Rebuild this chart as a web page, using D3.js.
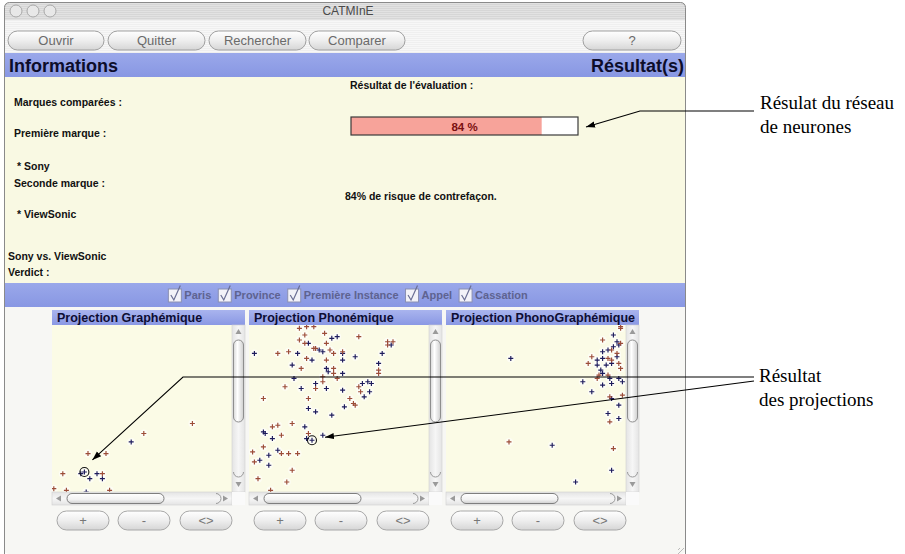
<!DOCTYPE html>
<html><head><meta charset="utf-8">
<script src="https://cdn.jsdelivr.net/npm/d3@7"></script>
<style>body{margin:0;background:#fff;}svg{display:block;}</style>
</head><body><svg id="c" width="905" height="554"></svg>
<script>
// ---------- data ----------
const windowTitle = "CATMInE";
const toolbarButtons = ["Ouvrir", "Quitter", "Rechercher", "Comparer", "?"];
const sectionTitles = ["Informations", "Résultat(s)"];
const infoLabels = ["Marques comparées :", "Première marque :", "* Sony", "Seconde marque :", "* ViewSonic", "Sony vs. ViewSonic", "Verdict :"];
const evaluationTitle = "Résultat de l'évaluation :";
const evaluationScore = 84;
const evaluationText = "84% de risque de contrefaçon.";
const filterLabels = ["Paris", "Province", "Première Instance", "Appel", "Cassation"];
const panelTitles = ["Projection Graphémique", "Projection Phonémique", "Projection PhonoGraphémique"];
const zoomButtons = ["+", "-", "<>"];
const annotations = [["Résulat du réseau", "de neurones"], ["Résultat", "des projections"]];

// projection points, normalised coordinates [x, y]
const grapheNavy = [[0.44,0.30],[0.18,0.12],[0.16,0.11],[0.21,0.08],[0.25,0.11],[0.28,0.08],[0.19,0.00]];
const grapheRed = [[0.78,0.41],[0.51,0.35],[0.20,0.23],[0.30,0.23],[0.06,0.11],[0.28,0.11],[0.01,0.02],[0.08,0.01],[0.32,0.01]];
const phonoNavy = [[0.49,0.93],[0.46,0.92],[0.33,0.89],[0.79,0.88],[0.39,0.85],[0.41,0.84],[0.52,0.83],[0.03,0.83],[0.27,0.83],[0.35,0.79],[0.52,0.79],[0.59,0.81],[0.74,0.83],[0.24,0.76],[0.43,0.74],[0.44,0.72],[0.52,0.71],[0.72,0.77],[0.25,0.68],[0.37,0.65],[0.29,0.62],[0.43,0.62],[0.52,0.61],[0.63,0.65],[0.66,0.66],[0.68,0.65],[0.67,0.60],[0.64,0.57],[0.53,0.51],[0.33,0.50],[0.37,0.48],[0.46,0.46],[0.31,0.39],[0.08,0.36],[0.09,0.35],[0.13,0.32],[0.32,0.32],[0.35,0.31],[0.41,0.34],[0.16,0.25],[0.06,0.19],[0.11,0.22],[0.11,0.16]];
const phonoRed = [[0.28,0.98],[0.32,0.99],[0.36,0.99],[0.42,0.95],[0.31,0.94],[0.28,0.91],[0.31,0.89],[0.61,0.93],[0.77,0.90],[0.80,0.90],[0.77,0.88],[0.43,0.89],[0.37,0.86],[0.36,0.86],[0.45,0.85],[0.47,0.83],[0.52,0.84],[0.16,0.83],[0.22,0.84],[0.32,0.80],[0.43,0.79],[0.29,0.74],[0.47,0.74],[0.47,0.71],[0.72,0.73],[0.72,0.71],[0.41,0.69],[0.49,0.68],[0.41,0.66],[0.37,0.62],[0.20,0.63],[0.61,0.63],[0.62,0.60],[0.08,0.56],[0.33,0.56],[0.56,0.56],[0.58,0.53],[0.59,0.52],[0.16,0.40],[0.13,0.39],[0.24,0.41],[0.33,0.35],[0.18,0.34],[0.08,0.27],[0.02,0.24],[0.03,0.18],[0.18,0.23],[0.22,0.23],[0.27,0.23],[0.24,0.13],[0.05,0.08],[0.21,0.06],[0.12,0.01]];
const phonoGrapheNavy = [[0.36,0.80],[0.93,0.94],[0.95,0.90],[0.96,0.88],[0.93,0.87],[0.90,0.85],[0.87,0.84],[0.84,0.79],[0.87,0.80],[0.95,0.81],[0.84,0.76],[0.89,0.76],[0.92,0.77],[0.86,0.73],[0.87,0.71],[0.91,0.68],[0.96,0.68],[0.98,0.66],[0.76,0.66],[0.87,0.64],[0.92,0.65],[0.81,0.60],[0.92,0.56],[0.96,0.52],[0.90,0.47],[0.96,0.44],[0.59,0.28],[0.92,0.13],[0.72,0.06]];
const phonoGrapheRed = [[0.97,0.98],[0.97,0.99],[0.87,0.91],[0.97,0.89],[0.92,0.85],[0.95,0.83],[0.81,0.81],[0.90,0.80],[0.92,0.79],[0.79,0.77],[0.96,0.77],[0.97,0.74],[0.85,0.70],[0.90,0.70],[0.84,0.68],[0.91,0.57],[0.98,0.58],[0.91,0.42],[0.35,0.30],[0.93,0.26]];
const queryPoints = [[0.18,0.12],[0.35,0.31],null];

// ---------- drawing ----------
const svg = d3.select("#c");
const UI = "'Liberation Sans', Arial, sans-serif";
const defs = svg.append("defs");
function lg(id, stops, vertical = true) {
  const g = defs.append("linearGradient").attr("id", id)
    .attr("x1", 0).attr("y1", 0).attr("x2", vertical ? 0 : 1).attr("y2", vertical ? 1 : 0);
  stops.forEach(([o, c]) => g.append("stop").attr("offset", o).attr("stop-color", c));
}
lg("gBtn", [[0, "#ffffff"], [0.5, "#eeeeee"], [1, "#d6d6d6"]]);
lg("gHead", [[0, "#9aa8ea"], [1, "#8897e3"]]);
lg("gPanelHead", [[0, "#a9b4ee"], [1, "#8a98e4"]]);
lg("gThumbV", [[0, "#d8d8d8"], [0.4, "#ffffff"], [1, "#cfcfcf"]], false);
lg("gThumbH", [[0, "#ffffff"], [0.6, "#f2f2f2"], [1, "#cfcfcf"]]);
lg("gTrackV", [[0, "#e4e4e4"], [0.5, "#f6f6f6"], [1, "#e4e4e4"]], false);
lg("gTrackH", [[0, "#e4e4e4"], [0.5, "#f6f6f6"], [1, "#e4e4e4"]]);
const pat = defs.append("pattern").attr("id", "stripes").attr("width", 4).attr("height", 2).attr("patternUnits", "userSpaceOnUse");
pat.append("rect").attr("width", 4).attr("height", 2).attr("fill", "#e2e2e2");
pat.append("rect").attr("width", 4).attr("height", 1).attr("fill", "#d6d6d6");
const pat2 = defs.append("pattern").attr("id", "stripes2").attr("width", 4).attr("height", 2).attr("patternUnits", "userSpaceOnUse");
pat2.append("rect").attr("width", 4).attr("height", 2).attr("fill", "#f7f7f7");
pat2.append("rect").attr("width", 4).attr("height", 1).attr("fill", "#efefef");
const arrowM = defs.append("marker").attr("id", "arr").attr("viewBox", "0 0 10 10").attr("refX", 10).attr("refY", 5)
  .attr("markerWidth", 9).attr("markerHeight", 9).attr("markerUnits", "userSpaceOnUse").attr("orient", "auto");
arrowM.append("path").attr("d", "M0,1.5L10,5L0,8.5Z").attr("fill", "#000");

const WX0 = 4, WX1 = 686;
// window body
svg.append("rect").attr("x", WX0).attr("y", 2).attr("width", WX1 - WX0).attr("height", 552).attr("rx", 5).attr("fill", "#f7f7f4");
// title bar
svg.append("path").attr("d", `M${WX0},20V8Q${WX0},2 ${WX0+6},2H${WX1-6}Q${WX1},2 ${WX1},8V20Z`).attr("fill", "url(#stripes)");
svg.append("rect").attr("x", WX0).attr("y", 20).attr("width", WX1 - WX0).attr("height", 33).attr("fill", "url(#stripes2)");
svg.selectAll(".light").data([16, 33, 50]).join("circle").attr("cx", d => d).attr("cy", 11).attr("r", 6)
  .attr("fill", "#e8e8e8").attr("stroke", "#a8a8a8").attr("stroke-width", 1);
svg.append("text").attr("x", 348).attr("y", 15).attr("text-anchor", "middle").attr("font-family", UI)
  .attr("font-size", 12).attr("fill", "#4a4a4a").text(windowTitle);

// toolbar buttons
const tbX = [8, 108, 209, 309, 583], tbW = [96, 97, 97, 96, 98];
const tb = svg.selectAll(".tb").data(toolbarButtons).join("g");
tb.append("rect").attr("x", (d, i) => tbX[i]).attr("y", 31).attr("width", (d, i) => tbW[i]).attr("height", 19).attr("rx", 9.5)
  .attr("fill", "url(#gBtn)").attr("stroke", "#a0a0a0");
tb.append("text").attr("x", (d, i) => tbX[i] + tbW[i] / 2).attr("y", 45).attr("text-anchor", "middle")
  .attr("font-family", UI).attr("font-size", 13).attr("fill", "#6a6a6a").text(d => d);

// section header
svg.append("rect").attr("x", WX0 + 1).attr("y", 53).attr("width", WX1 - WX0 - 2).attr("height", 24).attr("fill", "url(#gHead)");
svg.append("text").attr("x", 9).attr("y", 72).attr("font-family", UI).attr("font-weight", "bold").attr("font-size", 18)
  .attr("fill", "#0d0d2a").text(sectionTitles[0]);
svg.append("text").attr("x", 684).attr("y", 72).attr("text-anchor", "end").attr("font-family", UI).attr("font-weight", "bold")
  .attr("font-size", 18).attr("fill", "#0d0d2a").text(sectionTitles[1]);

// info area
svg.append("rect").attr("x", WX0 + 1).attr("y", 77).attr("width", WX1 - WX0 - 2).attr("height", 206).attr("fill", "#f9f9e3");
const infoPos = [[14, 106], [14, 137], [17, 170], [14, 187], [17, 218], [8, 260], [8, 276]];
svg.selectAll(".info").data(infoLabels).join("text").attr("x", (d, i) => infoPos[i][0]).attr("y", (d, i) => infoPos[i][1])
  .attr("font-family", UI).attr("font-weight", "bold").attr("font-size", 10.5).attr("fill", "#111").text(d => d);
svg.append("text").attr("x", 350).attr("y", 89).attr("font-family", UI).attr("font-weight", "bold").attr("font-size", 10.5)
  .attr("fill", "#111").text(evaluationTitle);
svg.append("text").attr("x", 345).attr("y", 200).attr("font-family", UI).attr("font-weight", "bold").attr("font-size", 10.5)
  .attr("fill", "#111").text(evaluationText);

// progress bar
const pScale = d3.scaleLinear().domain([0, 100]).range([351, 578]);
svg.append("rect").attr("x", pScale(0)).attr("y", 117).attr("width", pScale(100) - pScale(0)).attr("height", 18).attr("fill", "#ffffff");
svg.append("rect").attr("x", pScale(0)).attr("y", 117).attr("width", pScale(evaluationScore) - pScale(0)).attr("height", 18).attr("fill", "#f7a39a");
svg.append("rect").attr("x", pScale(0)).attr("y", 117).attr("width", pScale(100) - pScale(0)).attr("height", 18)
  .attr("fill", "none").attr("stroke", "#3a3a3a").attr("stroke-width", 1.2);
svg.append("text").attr("x", pScale(50)).attr("y", 130.5).attr("text-anchor", "middle").attr("font-family", UI)
  .attr("font-weight", "bold").attr("font-size", 11.5).attr("fill", "#7a1010").text(evaluationScore + " %");

// filter bar
svg.append("rect").attr("x", WX0 + 1).attr("y", 283).attr("width", WX1 - WX0 - 2).attr("height", 24).attr("fill", "url(#gHead)");
const fg = svg.append("g");
let fx = 0;
filterLabels.forEach(lbl => {
  const g = fg.append("g").attr("transform", `translate(${fx},0)`);
  g.append("rect").attr("x", 0).attr("y", 289).attr("width", 13).attr("height", 13).attr("fill", "#f2f2f8").attr("stroke", "#8a8fb2");
  g.append("path").attr("d", "M2.5,295 L5.5,300 L12,285.5").attr("fill", "none").attr("stroke", "#6a6e94").attr("stroke-width", 1.2);
  const t = g.append("text").attr("x", 16).attr("y", 299).attr("font-family", UI).attr("font-weight", "bold")
    .attr("font-size", 11).attr("fill", "#5e6390").text(lbl);
  fx += 16 + t.node().getComputedTextLength() + 7;
});
fg.attr("transform", `translate(${348 - (fx - 7) / 2},0)`);

// projection panels
const panels = [
  { x0: 52, navy: grapheNavy, red: grapheRed },
  { x0: 249, navy: phonoNavy, red: phonoRed },
  { x0: 446, navy: phonoGrapheNavy, red: phonoGrapheRed }
];
const PW = 180, PTOP = 325, PBOT = 492;
const plus = "M-2.5,0H2.5M0,-2.5V2.5";
panels.forEach((p, i) => {
  const x = d3.scaleLinear().domain([0, 1]).range([p.x0, p.x0 + PW]);
  const y = d3.scaleLinear().domain([0, 1]).range([PBOT, PTOP]);
  const g = svg.append("g");
  defs.append("clipPath").attr("id", "clip" + i).append("rect").attr("x", p.x0).attr("y", PTOP).attr("width", PW).attr("height", PBOT - PTOP);
  g.append("rect").attr("x", p.x0).attr("y", PTOP).attr("width", PW).attr("height", PBOT - PTOP).attr("fill", "#fbfbe6");
  const pts = g.append("g").attr("clip-path", `url(#clip${i})`);
  const all = p.navy.map(d => ({ d, c: "#1d1b5c" })).concat(p.red.map(d => ({ d, c: "#9c4c38" })));
  pts.selectAll(".halo").data(all).join("circle").attr("cx", e => x(e.d[0])).attr("cy", e => y(e.d[1])).attr("r", 4)
    .attr("fill", "#ffffff").attr("opacity", 0.55);
  pts.selectAll(".pt").data(all).join("path").attr("transform", e => `translate(${x(e.d[0])},${y(e.d[1])})`)
    .attr("d", plus).attr("stroke", e => e.c).attr("stroke-width", 1.15);
  if (queryPoints[i]) {
    pts.append("circle").attr("cx", x(queryPoints[i][0])).attr("cy", y(queryPoints[i][1])).attr("r", 4.5)
      .attr("fill", "none").attr("stroke", "#111").attr("stroke-width", 1.1);
  }
  // title
  g.append("rect").attr("x", p.x0).attr("y", 310).attr("width", PW + 13).attr("height", 15).attr("fill", "url(#gPanelHead)");
  defs.append("clipPath").attr("id", "tclip" + i).append("rect").attr("x", p.x0).attr("y", 308).attr("width", PW + 13).attr("height", 18);
  g.append("text").attr("clip-path", `url(#tclip${i})`).attr("x", p.x0 + 5).attr("y", 322).attr("font-family", UI)
    .attr("font-weight", "bold").attr("font-size", 12.5).attr("fill", "#0d0d33").text(panelTitles[i]);
  // vertical scrollbar
  const vx = p.x0 + PW;
  g.append("rect").attr("x", vx).attr("y", PTOP).attr("width", 13).attr("height", PBOT - PTOP).attr("fill", "url(#gTrackV)").attr("stroke", "#d0d0d0").attr("stroke-width", 0.6);
  g.append("path").attr("d", `M${vx + 6.5},${PTOP + 4}l3,5h-6z`).attr("fill", "#9a9a9a");
  g.append("rect").attr("x", vx + 1.5).attr("y", 340).attr("width", 10).attr("height", 82).attr("rx", 5).attr("fill", "url(#gThumbV)").attr("stroke", "#8e8e8e");
  g.append("path").attr("d", `M${vx + 1.5},${PBOT - 20}a5,5 0 0 0 10,0`).attr("fill", "none").attr("stroke", "#9a9a9a");
  g.append("path").attr("d", `M${vx + 6.5},${PBOT - 5}l3,-5h-6z`).attr("fill", "#9a9a9a");
  // horizontal scrollbar
  g.append("rect").attr("x", p.x0).attr("y", PBOT).attr("width", PW).attr("height", 13).attr("fill", "url(#gTrackH)").attr("stroke", "#d0d0d0").attr("stroke-width", 0.6);
  g.append("path").attr("d", `M${p.x0 + 4},${PBOT + 6.5}l5,-3v6z`).attr("fill", "#9a9a9a");
  g.append("rect").attr("x", p.x0 + 15).attr("y", PBOT + 1.5).attr("width", 97).attr("height", 10).attr("rx", 5).attr("fill", "url(#gThumbH)").attr("stroke", "#7e7e7e");
  g.append("path").attr("d", `M${p.x0 + 164},${PBOT + 1.5}a5,5 0 0 1 0,10`).attr("fill", "none").attr("stroke", "#9a9a9a");
  g.append("path").attr("d", `M${p.x0 + 176},${PBOT + 6.5}l-5,-3v6z`).attr("fill", "#9a9a9a");
  g.append("rect").attr("x", vx).attr("y", PBOT).attr("width", 13).attr("height", 13).attr("fill", "#fafafa");
  // zoom buttons
  const bx = [5, 66, 128];
  const zb = g.selectAll(".zb").data(zoomButtons).join("g");
  zb.append("rect").attr("x", (d, k) => p.x0 + bx[k]).attr("y", 511).attr("width", 52).attr("height", 19).attr("rx", 9.5)
    .attr("fill", "url(#gBtn)").attr("stroke", "#a8a8a8");
  zb.append("text").attr("x", (d, k) => p.x0 + bx[k] + 26).attr("y", 525).attr("text-anchor", "middle")
    .attr("font-family", UI).attr("font-size", 13).attr("fill", "#777").text(d => d);
});

// resize grip
svg.selectAll(".grip").data([0, 4]).join("path").attr("d", d => `M${684 - d},${548}L${678},${554 - d}`)
  .attr("stroke", "#aaa").attr("stroke-width", 0.8);
// window border
svg.append("rect").attr("x", WX0 + 0.5).attr("y", 2.5).attr("width", WX1 - WX0 - 1).attr("height", 560).attr("rx", 5)
  .attr("fill", "none").attr("stroke", "#8a8a8a").attr("stroke-width", 1);

// annotations
const ann = svg.append("g").attr("font-family", "'Liberation Serif', 'Times New Roman', serif").attr("font-size", 19).attr("fill", "#000");
const annPos = [[760, 109, 133], [759, 382, 406]];
annotations.forEach((lines, i) => {
  lines.forEach((t, k) => ann.append("text").attr("x", annPos[i][0]).attr("y", annPos[i][1 + k]).text(t));
});
const line = d3.line();
const A = svg.append("g").attr("fill", "none").attr("stroke", "#000").attr("stroke-width", 1.1);
A.append("path").attr("d", line([[754, 111], [640, 111], [586, 127]])).attr("marker-end", "url(#arr)");
const x1 = d3.scaleLinear().domain([0, 1]).range([52, 232]);
const x2 = d3.scaleLinear().domain([0, 1]).range([249, 429]);
const yP = d3.scaleLinear().domain([0, 1]).range([PBOT, PTOP]);
A.append("path").attr("d", line([[754, 377], [183, 377], [x1(queryPoints[0][0]) + 8, yP(queryPoints[0][1]) - 12]])).attr("marker-end", "url(#arr)");
A.append("path").attr("d", line([[754, 381], [x2(queryPoints[1][0]) + 13, yP(queryPoints[1][1]) - 3]])).attr("marker-end", "url(#arr)");
</script></body></html>
